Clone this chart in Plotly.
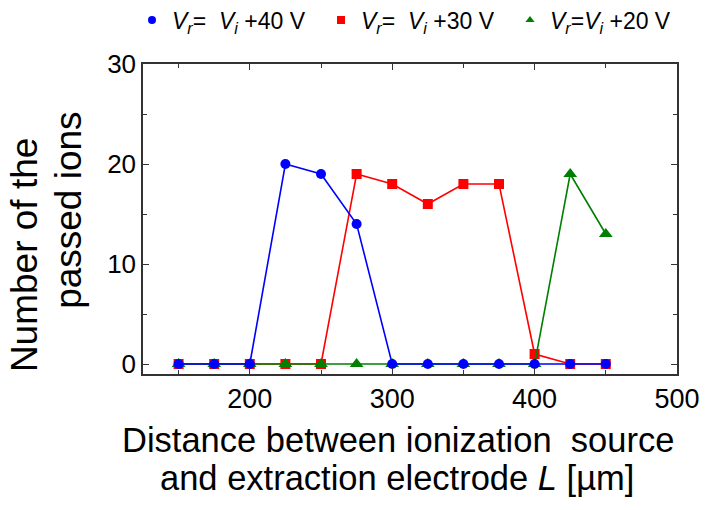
import plotly.graph_objects as go

# Distance L between ionization source and extraction electrode [um]
distance_um = [150, 175, 200, 225, 250, 275, 300, 325, 350, 375, 400, 425, 450]

# Number of passed ions for each repeller voltage setting
ions_40v = [0, 0, 0, 20, 19, 14, 0, 0, 0, 0, 0, 0, 0]
ions_30v = [0, 0, 0, 0, 0, 19, 18, 16, 18, 18, 1, 0, 0]
ions_20v = [0, 0, 0, 0, 0, 0, 0, 0, 0, 0, 0, 19, 13]

label_40v = "<i>V<sub>r</sub></i>= \u00a0<i>V<sub>i</sub></i> +40 V"
label_30v = "<i>V<sub>r</sub></i>= \u00a0<i>V<sub>i</sub></i> +30 V"
label_20v = "<i>V<sub>r</sub></i>=<i>V<sub>i</sub></i> +20 V"

FONT = "Liberation Sans, Arial, sans-serif"

series = [
    # (values, colour, symbol, marker size, label) drawn bottom to top
    (ions_30v, "#ff0000", "square", 10, label_30v),
    (ions_20v, "#007f00", "triangle-up", 12, label_20v),
    (ions_40v, "#0000ff", "circle", 10, label_40v),
]

fig = go.Figure()
for vals, color, symbol, size, name in series:
    fig.add_trace(go.Scatter(
        x=distance_um, y=vals, mode="lines+markers",
        line=dict(color=color, width=1.6),
        marker=dict(color=color, symbol=symbol, size=size),
        showlegend=False, hoverinfo="x+y",
    ))

# legend entries with smaller symbols, listed in display order
legend_order = [series[2], series[0], series[1]]
for vals, color, symbol, size, name in legend_order:
    fig.add_trace(go.Scatter(
        x=[None], y=[None], mode="markers", name=name,
        marker=dict(color=color, symbol=symbol, size=8),
    ))

axis_common = dict(
    showline=True, linecolor="#333333", linewidth=1.5, mirror="ticks",
    ticks="inside", ticklen=6, tickwidth=1.2, tickcolor="#333333",
    showgrid=False, zeroline=False,
)

fig.update_xaxes(
    range=[125, 500], tick0=0, dtick=100,
    minor=dict(dtick=50, ticks="inside", ticklen=4, tickcolor="#333333"),
    tickfont=dict(family=FONT, size=27, color="black"),
    **axis_common,
)
fig.update_yaxes(
    range=[-1, 30], tick0=0, dtick=10,
    minor=dict(dtick=5, ticks="inside", ticklen=4, tickcolor="#333333"),
    tickfont=dict(family=FONT, size=26, color="black"),
    **axis_common,
)

x_title_font = dict(family=FONT, size=34.5, color="black")
y_title_font = dict(family=FONT, size=37, color="black")
fig.add_annotation(
    text="Distance between ionization\u00a0 source",
    xref="paper", yref="paper", x=0.478, y=-0.2145, xanchor="center", yanchor="middle",
    showarrow=False, font=x_title_font,
)
fig.add_annotation(
    text="and extraction electrode <i>L</i> [\u00b5m]",
    xref="paper", yref="paper", x=0.476, y=-0.337, xanchor="center", yanchor="middle",
    showarrow=False, font=x_title_font,
)
fig.add_annotation(
    text="Number of the", textangle=-90,
    xref="paper", yref="paper", x=-0.222, y=0.385, xanchor="center", yanchor="middle",
    showarrow=False, font=y_title_font,
)
fig.add_annotation(
    text="passed ions", textangle=-90,
    xref="paper", yref="paper", x=-0.14, y=0.527, xanchor="center", yanchor="middle",
    showarrow=False, font=y_title_font,
)

fig.update_layout(
    width=706, height=510,
    margin=dict(l=143, r=29, t=64, b=136, autoexpand=False),
    paper_bgcolor="white", plot_bgcolor="white",
    font=dict(family=FONT, color="black"),
    legend=dict(
        orientation="h", x=-0.0206, xanchor="left", y=1.142, yanchor="middle",
        font=dict(family=FONT, size=23, color="black"),
        entrywidth=144, itemwidth=30, traceorder="normal",
        bgcolor="rgba(0,0,0,0)",
    ),
)

fig.write_html("out.html")
